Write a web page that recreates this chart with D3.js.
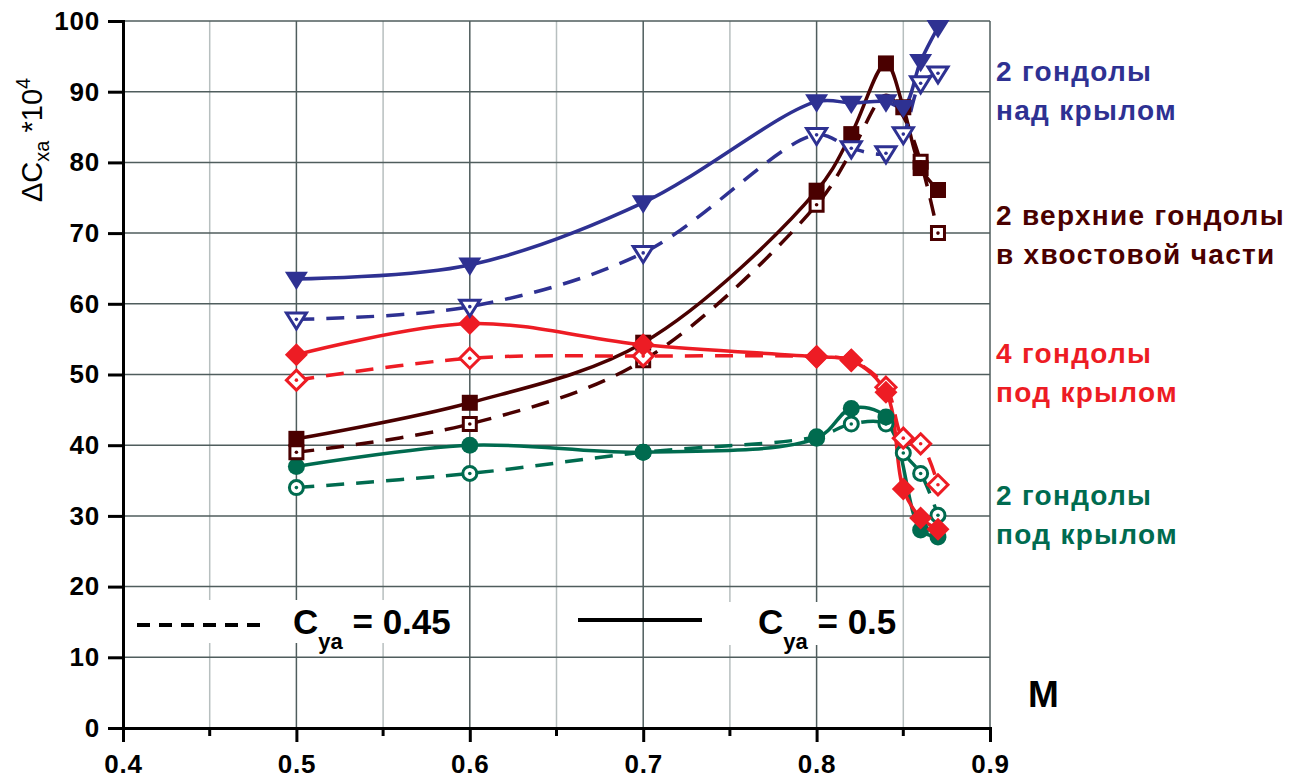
<!DOCTYPE html>
<html>
<head>
<meta charset="utf-8">
<script src="https://cdn.jsdelivr.net/npm/d3@7"></script>
<style>
  body { margin: 0; background: #fff; }
  svg { display: block; font-family: "Liberation Sans", Arial, sans-serif; }
</style>
</head>
<body>
<svg id="chart" width="1300" height="780"></svg>
<script>
// Mach numbers
var mach = [0.5, 0.6, 0.7, 0.8, 0.82, 0.84, 0.85, 0.86, 0.87];

// dCxa*10^4 , solid = Cya 0.5, hollow = Cya 0.45
var overSolid   = [63.5, 65.5, 74.3, 88.6, 88.4, 88.6, 87.8, 94.3, 99.1];
var overHollow  = [57.8, 59.6, 67.2, 83.9, 82.0, 81.3, 84.0, 91.2, 92.6];
var tailSolid   = [40.9, 46.0, 54.5, 76.0, 84.0, 94.0, 87.8, 79.2, 76.1];
var tailHollow  = [39.0, 43.0, 52.0, 74.0, 81.5, 89.5, 86.5, 80.1, 70.0];
var tailHollowShown = [1, 1, 1, 1, 0, 0, 0, 1, 1];
var under4Solid  = [52.8, 57.2, 54.2, 52.5, 52.0, 47.5, 33.8, 29.7, 28.1];
var under4Hollow = [49.2, 52.3, 52.6, 52.5, 52.0, 48.2, 41.0, 40.2, 34.4];
var under2Solid  = [37.0, 40.0, 39.0, 41.0, 45.2, 44.0, null, 28.0, 27.0];
var under2Hollow = [34.0, 36.0, 39.0, 41.2, 43.0, 43.0, 38.9, 36.0, 30.1];

var xTicks = [0.4, 0.5, 0.6, 0.7, 0.8, 0.9];
var xMinor = [0.45, 0.55, 0.65, 0.75, 0.85];
var yTicks = [0, 10, 20, 30, 40, 50, 60, 70, 80, 90, 100];

var seriesLabels = [
  {lines: ["2 гондолы", "над крылом"], color: "#2e3192", y: 81},
  {lines: ["2 верхние гондолы", "в хвостовой части"], color: "#4a0000", y: 225},
  {lines: ["4 гондолы", "под крылом"], color: "#ed1c24", y: 363},
  {lines: ["2 гондолы", "под крылом"], color: "#006b4f", y: 505}
];

var svg = d3.select("#chart"),
    margin = {top: 21, left: 123},
    width = 867,
    height = 707,
    g = svg.append("g").attr("transform", "translate(" + margin.left + "," + margin.top + ")");

var x = d3.scaleLinear().domain([0.4, 0.9]).range([0, width]);
var y = d3.scaleLinear().domain([0, 100]).range([height, 0]);

var dark = "#4f5d5d", light = "#b7bfbf";

// grid
g.selectAll(".vminor").data(xMinor).enter().append("line")
    .attr("x1", function(d) { return x(d); }).attr("x2", function(d) { return x(d); })
    .attr("y1", 0).attr("y2", height)
    .attr("stroke", light).attr("stroke-width", 1.5);
g.selectAll(".vmajor").data(xTicks.slice(1)).enter().append("line")
    .attr("x1", function(d) { return x(d); }).attr("x2", function(d) { return x(d); })
    .attr("y1", 0).attr("y2", height)
    .attr("stroke", dark).attr("stroke-width", 1.5);
g.selectAll(".hgrid").data(yTicks.slice(1)).enter().append("line")
    .attr("x1", 0).attr("x2", width)
    .attr("y1", function(d) { return y(d); }).attr("y2", function(d) { return y(d); })
    .attr("stroke", dark).attr("stroke-width", 1.5);

// white boxes behind the legend
g.append("rect").attr("x", 8).attr("y", 579).attr("width", 332).attr("height", 43).attr("fill", "#fff");
g.append("rect").attr("x", 597).attr("y", 581).attr("width", 178).attr("height", 43).attr("fill", "#fff");

// axes
var yAxis = d3.axisLeft(y).tickValues(yTicks).tickSize(15).tickPadding(8).tickFormat(d3.format("d"));
var xAxis = d3.axisBottom(x).tickValues(xTicks).tickSize(14).tickPadding(13).tickFormat(d3.format(".1f"));

g.append("g").attr("class", "axis").call(yAxis);
g.append("g").attr("class", "axis").attr("transform", "translate(0," + height + ")").call(xAxis);
g.append("g").attr("transform", "translate(0," + height + ")")
  .selectAll("line").data(xMinor).enter().append("line")
    .attr("x1", function(d) { return x(d); }).attr("x2", function(d) { return x(d); })
    .attr("y1", 0).attr("y2", 8).attr("stroke", "#000").attr("stroke-width", 3);

g.selectAll(".axis path").attr("stroke", "#000").attr("stroke-width", 3);
g.selectAll(".axis line").attr("stroke", "#000").attr("stroke-width", 3);
g.selectAll(".axis text").attr("fill", "#000").attr("font-size", 26).attr("font-weight", "bold")
    .attr("letter-spacing", 0.8)
    .attr("font-family", "Liberation Sans, Arial, sans-serif");

// series
var curve = d3.line()
    .curve(d3.curveCatmullRom.alpha(0.5))
    .x(function(d) { return x(d.m); })
    .y(function(d) { return y(d.v); });

function pts(vals, shown) {
  return mach.map(function(m, i) { return {m: m, v: vals[i], show: shown ? shown[i] : 1}; })
    .filter(function(d) { return d.v != null; });
}

var series = [
  {vals: under2Hollow, color: "#006b4f", dash: true,  shape: "circle"},
  {vals: under2Solid,  color: "#006b4f", dash: false, shape: "circle"},
  {vals: tailHollow,   color: "#4a0000", dash: true,  shape: "square", shown: tailHollowShown},
  {vals: tailSolid,    color: "#4a0000", dash: false, shape: "square"},
  {vals: under4Hollow, color: "#ed1c24", dash: true,  shape: "diamond"},
  {vals: under4Solid,  color: "#ed1c24", dash: false, shape: "diamond"},
  {vals: overHollow,   color: "#2e3192", dash: true,  shape: "triangle"},
  {vals: overSolid,    color: "#2e3192", dash: false, shape: "triangle"}
];

var shapes = {
  circle:   function(s) { var r = s / 2; return "M" + r + ",0A" + r + "," + r + " 0 1,1 " + (-r) + ",0A" + r + "," + r + " 0 1,1 " + r + ",0Z"; },
  square:   function(s) { var h = s / 2; return "M" + (-h) + "," + (-h) + "H" + h + "V" + h + "H" + (-h) + "Z"; },
  diamond:  function(s) { var h = s / 2; return "M0," + (-h) + "L" + h + ",0L0," + h + "L" + (-h) + ",0Z"; },
  triangle: function(s) { var w = s / 2, hh = s * 0.8; return "M" + (-w) + "," + (-hh * 0.4) + "H" + w + "L0," + (hh * 0.6) + "Z"; }
};
var solidSize  = {circle: 17, square: 16, diamond: 23, triangle: 23};
var hollowSize = {circle: 14, square: 13, diamond: 20, triangle: 20};

series.forEach(function(s) {
  g.append("path")
      .datum(pts(s.vals))
      .attr("d", curve)
      .attr("fill", "none")
      .attr("stroke", s.color)
      .attr("stroke-width", 3.5)
      .attr("stroke-dasharray", s.dash ? "18,12" : null);
});

series.forEach(function(s) {
  var mk = g.selectAll(null)
    .data(pts(s.vals, s.shown).filter(function(d) { return d.show; }))
    .enter().append("g")
      .attr("transform", function(d) { return "translate(" + x(d.m) + "," + y(d.v) + ")"; });
  if (s.dash) {
    mk.append("path").attr("d", shapes[s.shape](hollowSize[s.shape]))
      .attr("fill", "#fff").attr("stroke", s.color).attr("stroke-width", 3);
    mk.append("circle").attr("r", 1.8).attr("fill", s.color);
  } else {
    mk.append("path").attr("d", shapes[s.shape](solidSize[s.shape])).attr("fill", s.color);
  }
});

// line-style legend
g.append("line").attr("x1", 14).attr("x2", 137).attr("y1", 604).attr("y2", 604)
    .attr("stroke", "#000").attr("stroke-width", 4).attr("stroke-dasharray", "13,9");
g.append("line").attr("x1", 455).attr("x2", 579).attr("y1", 599).attr("y2", 599)
    .attr("stroke", "#000").attr("stroke-width", 4);

function cya(t, px, val) {
  var txt = g.append("text").attr("x", px).attr("y", 613)
      .attr("font-size", 35).attr("font-weight", "bold").attr("fill", "#000");
  txt.append("tspan").text("C");
  txt.append("tspan").attr("font-size", 22).attr("dy", 15).text("ya");
  txt.append("tspan").attr("dy", -15).text(" = " + val);
}
cya(g, 170, "0.45");
cya(g, 635, "0.5");

// axis titles
var yt = svg.append("text").attr("transform", "translate(42,202) rotate(-90)")
    .attr("font-size", 29).attr("fill", "#000");
yt.append("tspan").text("ΔC");
yt.append("tspan").attr("font-size", 20).attr("dy", 7).text("xa");
yt.append("tspan").attr("dy", -7).text(" *10");
yt.append("tspan").attr("font-size", 20).attr("dy", -12).text("4");

svg.append("text").attr("x", 1028).attr("y", 707)
    .attr("font-size", 37).attr("font-weight", "bold").attr("fill", "#000").text("M");

// series captions on the right
seriesLabels.forEach(function(l) {
  l.lines.forEach(function(s, i) {
    svg.append("text").attr("x", 996).attr("y", l.y + i * 39)
        .attr("font-size", 28).attr("font-weight", "bold").attr("letter-spacing", 1.3)
        .attr("fill", l.color).text(s);
  });
});
</script>
</body>
</html>
